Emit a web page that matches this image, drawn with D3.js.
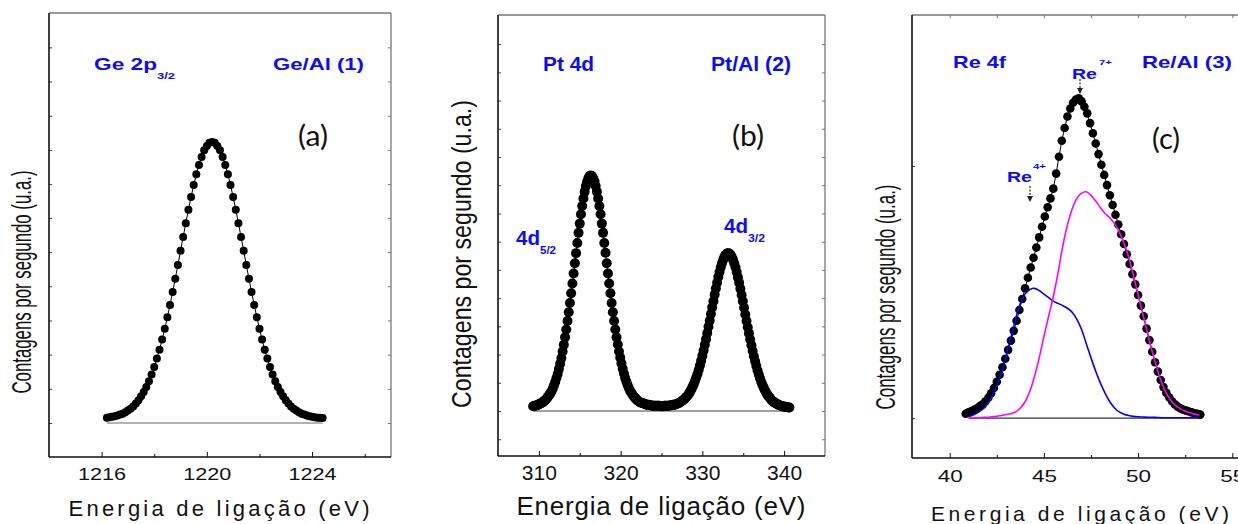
<!DOCTYPE html>
<html>
<head>
<meta charset="utf-8">
<script src="https://cdn.jsdelivr.net/npm/d3@7"></script>
<style>
  body { margin: 0; background: #fff; }
  svg { display: block; }
</style>
</head>
<body>
<svg id="chart" width="1238" height="524"></svg>
<script>
// ---------- (a) Ge 2p3/2, Ge/Al (1) ----------
const aEnergy = [1216.2,1216.3,1216.4,1216.5,1216.6,1216.7,1216.8,1216.9,1217,1217.1,
  1217.2,1217.3,1217.4,1217.5,1217.6,1217.7,1217.8,1217.9,1218,1218.1,
  1218.2,1218.3,1218.4,1218.5,1218.6,1218.7,1218.8,1218.9,1219,1219.1,
  1219.2,1219.3,1219.4,1219.5,1219.6,1219.7,1219.8,1219.9,1220,1220.1,
  1220.2,1220.3,1220.4,1220.5,1220.6,1220.7,1220.8,1220.9,1221,1221.1,
  1221.2,1221.3,1221.4,1221.5,1221.6,1221.7,1221.8,1221.9,1222,1222.1,
  1222.2,1222.3,1222.4,1222.5,1222.6,1222.7,1222.8,1222.9,1223,1223.1,
  1223.2,1223.3,1223.4,1223.5,1223.6,1223.7,1223.8,1223.9,1224,1224.1,
  1224.2,1224.3,1224.4];
const aCounts = [1.2,1.3,1.4,1.5,1.7,1.9,2.1,2.4,2.8,3.2,
  3.7,4.4,5.1,6.0,7.0,8.1,9.4,10.9,12.6,14.5,
  16.5,18.8,21.2,23.8,26.6,29.5,32.5,35.6,38.8,41.9,
  45.0,48.0,50.9,53.6,56.0,58.1,59.9,61.4,62.4,63.1,
  63.3,63.1,62.4,61.4,59.9,58.1,56.0,53.6,50.9,48.0,
  45.0,41.9,38.8,35.6,32.5,29.5,26.6,23.8,21.2,18.8,
  16.5,14.5,12.6,10.9,9.4,8.1,7.0,6.0,5.1,4.4,
  3.7,3.2,2.8,2.4,2.1,1.9,1.7,1.5,1.4,1.3,
  1.2,1.2,1.1];
const aBaseline = [1216.2, 1224.4];
const aXTicks = [1216, 1220, 1224];
const aXMinor = [1218, 1222, 1226];
const aYTicks = [0, 7.7, 15.4, 23.1, 30.8, 38.5, 46.2, 53.8, 61.5, 69.2, 76.9, 84.6];

// ---------- (b) Pt 4d, Pt/Al (2) ----------
const bEnergy = [309.3,309.45,309.6,309.75,309.9,310.05,310.2,310.35,310.5,310.65,310.8,310.95,311.1,311.25,311.4,311.55,311.7,311.85,312,312.15,
  312.3,312.45,312.6,312.75,312.9,313.05,313.2,313.35,313.5,313.65,313.8,313.95,314.1,314.25,314.4,314.55,314.7,314.85,315,315.15,
  315.3,315.45,315.6,315.75,315.9,316.05,316.2,316.35,316.5,316.65,316.8,316.95,317.1,317.25,317.4,317.55,317.7,317.85,318,318.15,
  318.3,318.45,318.6,318.75,318.9,319.05,319.2,319.35,319.5,319.65,319.8,319.95,320.1,320.25,320.4,320.55,320.7,320.85,321,321.15,
  321.3,321.45,321.6,321.75,321.9,322.05,322.2,322.35,322.5,322.65,322.8,322.95,323.1,323.25,323.4,323.55,323.7,323.85,324,324.15,
  324.3,324.45,324.6,324.75,324.9,325.05,325.2,325.35,325.5,325.65,325.8,325.95,326.1,326.25,326.4,326.55,326.7,326.85,327,327.15,
  327.3,327.45,327.6,327.75,327.9,328.05,328.2,328.35,328.5,328.65,328.8,328.95,329.1,329.25,329.4,329.55,329.7,329.85,330,330.15,
  330.3,330.45,330.6,330.75,330.9,331.05,331.2,331.35,331.5,331.65,331.8,331.95,332.1,332.25,332.4,332.55,332.7,332.85,333,333.15,
  333.3,333.45,333.6,333.75,333.9,334.05,334.2,334.35,334.5,334.65,334.8,334.95,335.1,335.25,335.4,335.55,335.7,335.85,336,336.15,
  336.3,336.45,336.6,336.75,336.9,337.05,337.2,337.35,337.5,337.65,337.8,337.95,338.1,338.25,338.4,338.55,338.7,338.85,339,339.15,
  339.3,339.45,339.6,339.75,339.9,340.05,340.2,340.35,340.5,340.65];
const bCounts = [1.1,1.2,1.2,1.3,1.4,1.6,1.7,1.8,2.0,2.3,2.5,2.8,3.2,3.6,4.0,4.5,5.1,5.8,6.6,7.5,
  8.4,9.5,10.7,12.0,13.5,15.0,16.7,18.5,20.4,22.4,24.5,26.7,28.9,31.2,33.5,35.8,38.1,40.4,42.5,44.6,
  46.5,48.2,49.7,51.0,52.0,52.8,53.3,53.4,53.3,52.8,52.1,51.0,49.7,48.2,46.5,44.6,42.5,40.4,38.1,35.9,
  33.5,31.2,28.9,26.7,24.5,22.4,20.4,18.5,16.7,15.1,13.5,12.1,10.8,9.6,8.5,7.5,6.7,5.9,5.2,4.6,
  4.2,3.7,3.3,3.0,2.7,2.4,2.2,2.0,1.9,1.8,1.7,1.6,1.5,1.4,1.4,1.3,1.3,1.2,1.2,1.2,
  1.2,1.2,1.2,1.2,1.1,1.1,1.1,1.2,1.2,1.2,1.2,1.2,1.3,1.3,1.4,1.4,1.5,1.6,1.7,1.8,
  2.0,2.2,2.4,2.6,2.9,3.2,3.5,3.9,4.4,4.9,5.5,6.1,6.8,7.6,8.4,9.3,10.3,11.4,12.5,13.7,
  15.0,16.3,17.7,19.1,20.5,22.0,23.5,24.9,26.4,27.8,29.1,30.4,31.5,32.6,33.5,34.3,35.0,35.4,35.7,35.8,
  35.7,35.4,34.9,34.3,33.5,32.6,31.5,30.3,29.1,27.7,26.3,24.9,23.4,21.9,20.4,19.0,17.6,16.2,14.9,13.6,
  12.4,11.3,10.2,9.2,8.3,7.4,6.6,5.9,5.3,4.7,4.2,3.7,3.3,3.0,2.6,2.3,2.1,1.9,1.7,1.6,
  1.4,1.3,1.2,1.1,1.0,1.0,0.9,0.9,0.8,0.8];
const bBaseline = [309.3, 340.6];
const bXTicks = [310, 320, 330, 340];
const bXMinor = [315, 325, 335];
const bYTicks = [-6.4, 0, 6.4, 12.8, 19.2, 25.6, 32.0, 38.4, 44.8, 51.2, 57.6, 64.0, 70.4, 76.8, 83.2];

// ---------- (c) Re 4f, Re/Al (3) ----------
const cEnergy = [40.85,41,41.15,41.3,41.45,41.6,41.75,41.9,42.05,42.2,
  42.35,42.5,42.65,42.8,42.95,43.1,43.25,43.4,43.55,43.7,
  43.85,44,44.15,44.3,44.45,44.6,44.75,44.9,45.05,45.2,
  45.35,45.5,45.65,45.8,45.95,46.1,46.25,46.4,46.55,46.7,
  46.85,47,47.15,47.3,47.45,47.6,47.75,47.9,48.05,48.2,
  48.35,48.5,48.65,48.8,48.95,49.1,49.25,49.4,49.55,49.7,
  49.85,50,50.15,50.3,50.45,50.6,50.75,50.9,51.05,51.2,
  51.35,51.5,51.65,51.8,51.95,52.1,52.25,52.4,52.55,52.7,
  52.85,53,53.15,53.3];
const cCounts = [1.0,1.3,1.6,1.9,2.2,2.7,3.1,3.8,4.6,5.6,
  6.8,8.2,9.8,11.5,13.4,15.4,17.5,19.7,22.0,24.4,
  26.9,29.3,31.7,34.0,36.2,38.5,40.8,43.2,45.5,47.6,
  49.6,51.8,55.2,59.0,62.6,65.5,68.1,69.9,71.2,71.9,
  72.2,71.5,70.3,68.8,66.6,64.3,62.0,59.6,57.2,54.9,
  52.6,50.3,48.1,45.9,43.7,41.5,39.3,37.0,34.8,32.5,
  30.2,27.8,25.4,23.0,20.2,17.6,15.0,12.6,10.5,8.6,
  7.0,5.7,4.7,3.8,3.1,2.6,2.2,1.9,1.7,1.5,
  1.3,1.1,1.0,0.8];
const cFitEnergy = [41,41.25,41.5,41.75,42,42.25,42.5,42.75,43,43.25,
  43.5,43.75,44,44.25,44.5,44.75,45,45.25,45.5,45.75,
  46,46.25,46.5,46.75,47,47.25,47.5,47.75,48,48.25,
  48.5,48.75,49,49.25,49.5,49.75,50,50.25,50.5,50.75,
  51,51.25,51.5,51.75,52,52.25,52.5,52.75,53,53.25];
const cRe7 = [0.0,0.05,0.1,0.15,0.2,0.3,0.4,0.6,0.8,1.0,
  1.4,2.3,3.7,6.0,9.4,13.6,18.4,23.0,27.4,32.8,
  38.8,43.6,47.2,49.6,50.8,51.1,50.3,49.0,47.5,46.2,
  45.2,43.9,42.0,39.5,36.3,32.2,27.8,23.5,19.2,15.0,
  11.3,8.0,5.6,3.9,2.8,2.1,1.6,1.2,0.9,0.7];
const cRe4 = [0.3,0.7,1.3,2.0,3.2,4.9,7.3,10.3,14.0,18.2,
  22.3,25.9,28.0,29.0,29.3,28.8,28.0,27.2,26.4,25.9,
  25.4,24.8,23.9,22.3,20.0,16.8,13.6,10.6,7.9,5.6,
  3.7,2.3,1.4,0.9,0.6,0.4,0.3,0.25,0.2,0.2,
  0.15,0.1,0.1,0.1,0.1,0.1,0.1,0.1,0.1,0.1];
const cBaseline = [41.0, 53.3];
const cXTicks = [40, 45, 50, 55];
const cXMinor = [42.5, 47.5, 52.5];
const cYTicks = [0, 56.9];

const yLabel = "Contagens por segundo (u.a.)";
const xLabel = "Energia de ligação (eV)";

const SANS = "'Liberation Sans', Arial, Helvetica, sans-serif";
const BLUE = "#0a0aff";
const svg = d3.select("#chart");

function addText(g, str, x, y, o) {
  const t = g.append("text")
    .attr("x", x).attr("y", y)
    .attr("font-family", o.family || SANS)
    .attr("font-size", o.size)
    .attr("font-weight", o.weight || "normal")
    .attr("fill", o.color || "#111")
    .attr("text-anchor", o.anchor || "start")
    .text(str);
  if (o.len) t.attr("textLength", o.len).attr("lengthAdjust", o.adjust || "spacingAndGlyphs");
  if (o.rotate) t.attr("transform", `rotate(${o.rotate},${x},${y})`);
  return t;
}

function drawPanel(p) {
  const b = p.box;
  const x = d3.scaleLinear().domain(p.xDomain).range([b.left, b.right]);
  const y = d3.scaleLinear().domain(p.yDomain).range([b.bottom, b.top]);
  const g = svg.append("g");

  // frame: grey top/right, black left/bottom
  g.append("line").attr("x1", b.left).attr("x2", b.right).attr("y1", b.top).attr("y2", b.top)
    .attr("stroke", "#777").attr("stroke-width", 1.3);
  g.append("line").attr("x1", b.right).attr("x2", b.right).attr("y1", b.top).attr("y2", b.bottom)
    .attr("stroke", "#777").attr("stroke-width", 1.3);

  // bottom axis, inward ticks
  const xa = g.append("g").attr("transform", `translate(0,${b.bottom})`)
    .call(d3.axisBottom(x).tickValues(p.xTicks).tickSizeInner(-5).tickSizeOuter(0).tickFormat(d3.format("d")));
  xa.select(".domain").remove();
  xa.selectAll("line").attr("stroke", "#111");
  xa.selectAll("text")
    .attr("y", p.tickLabel.dy).attr("dy", null)
    .attr("font-family", SANS).attr("font-size", p.tickLabel.size).attr("fill", "#111");
  if (p.tickLabel.len) xa.selectAll("text").attr("textLength", p.tickLabel.len).attr("lengthAdjust", "spacingAndGlyphs");
  g.append("g").attr("transform", `translate(0,${b.bottom})`)
    .call(d3.axisBottom(x).tickValues(p.xMinor).tickSizeInner(-3).tickSizeOuter(0).tickFormat(""))
    .call(s => s.select(".domain").remove())
    .selectAll("line").attr("stroke", "#111");

  if (p.topTicks) {
    g.append("g").attr("transform", `translate(0,${b.top})`)
      .call(d3.axisTop(x).tickValues(p.xTicks.concat(p.xMinor)).tickSizeInner(-3).tickSizeOuter(0).tickFormat(""))
      .call(s => s.select(".domain").remove())
      .selectAll("line").attr("stroke", "#777");
  }

  g.append("g").attr("transform", `translate(${b.left},0)`)
    .call(d3.axisLeft(y).tickValues(p.yTicks).tickSizeInner(-3).tickSizeOuter(0).tickFormat(""))
    .call(s => s.select(".domain").remove())
    .selectAll("line").attr("stroke", "#444");
  if (p.rightTicks) {
    g.append("g").attr("transform", `translate(${b.right},0)`)
      .call(d3.axisRight(y).tickValues(p.yTicks).tickSizeInner(-3).tickSizeOuter(0).tickFormat(""))
      .call(s => s.select(".domain").remove())
      .selectAll("line").attr("stroke", "#777");
  }

  g.append("line").attr("x1", b.left).attr("x2", b.right).attr("y1", b.bottom).attr("y2", b.bottom)
    .attr("stroke", "#111").attr("stroke-width", 1.6);
  g.append("line").attr("x1", b.left).attr("x2", b.left).attr("y1", b.top).attr("y2", b.bottom)
    .attr("stroke", "#111").attr("stroke-width", 1.6);

  // background line under the peak
  g.append("line")
    .attr("x1", x(p.baseline[0])).attr("x2", x(p.baseline[1]))
    .attr("y1", y(0)).attr("y2", y(0))
    .attr("stroke", p.baseColor).attr("stroke-width", 1.2);

  const pts = d3.zip(p.energy, p.counts);
  const line = d3.line().x(d => x(d[0])).y(d => y(d[1]));
  g.append("path").datum(pts).attr("d", line)
    .attr("fill", "none").attr("stroke", "#000").attr("stroke-width", 1);
  g.append("g").selectAll("circle").data(pts).join("circle")
    .attr("cx", d => x(d[0])).attr("cy", d => y(d[1])).attr("r", p.r).attr("fill", "#000");

  (p.fits || []).forEach(f => {
    const fl = d3.line().x(d => x(d[0])).y(d => y(d[1])).curve(d3.curveCatmullRom.alpha(0.5));
    g.append("path").datum(d3.zip(f.energy, f.values)).attr("d", fl)
      .attr("fill", "none").attr("stroke", f.color).attr("stroke-width", 1.6);
  });

  addText(g, yLabel, p.yLab.x, p.yLab.y, { size: p.yLab.size, anchor: "middle", len: p.yLab.len, rotate: -90 });
  addText(g, xLabel, p.xLab.x, p.xLab.y, { size: p.xLab.size, anchor: "middle", len: p.xLab.len, adjust: p.xLab.adjust || "spacing" });
  addText(g, p.tag.text, p.tag.x, p.tag.y, { size: 28, family: "Lato, 'Open Sans', sans-serif", len: p.tag.len });
  p.notes.forEach(n => addText(g, n.text, n.x, n.y, { size: n.size, weight: "bold", color: BLUE, len: n.len }));
  (p.arrows || []).forEach(a => {
    g.append("line").attr("x1", a.x).attr("x2", a.x).attr("y1", a.y0).attr("y2", a.y1 - 5)
      .attr("stroke", "#222").attr("stroke-width", 1.2).attr("stroke-dasharray", "2,1.5");
    g.append("path")
      .attr("d", `M${a.x - 3},${a.y1 - 6}L${a.x + 3},${a.y1 - 6}L${a.x},${a.y1}Z`)
      .attr("fill", "#222");
  });
}

drawPanel({
  box: { left: 49, right: 391, top: 13, bottom: 457 },
  xDomain: [1214, 1227], yDomain: [-7.66, 92.34],
  energy: aEnergy, counts: aCounts, r: 4, baseline: aBaseline, baseColor: "#666",
  xTicks: aXTicks, xMinor: aXMinor, yTicks: aYTicks, rightTicks: true,
  tickLabel: { size: 16, dy: 23, len: 48 },
  yLab: { x: 31, y: 282, size: 27, len: 223 },
  xLab: { x: 219, y: 516, size: 22, len: 301 },
  tag: { text: "(a)", x: 298, y: 146, len: 30 },
  notes: [
    { text: "Ge 2p", x: 94, y: 70, size: 17, len: 63 },
    { text: "3/2", x: 157, y: 79, size: 9, len: 18 },
    { text: "Ge/Al (1)", x: 273, y: 70, size: 17, len: 91 }
  ]
});

drawPanel({
  box: { left: 498, right: 825, top: 15, bottom: 456 },
  xDomain: [305, 345], yDomain: [-10.2, 89.8],
  energy: bEnergy, counts: bCounts, r: 5, baseline: bBaseline, baseColor: "#444",
  xTicks: bXTicks, xMinor: bXMinor, yTicks: bYTicks, rightTicks: true,
  tickLabel: { size: 21, dy: 24 },
  yLab: { x: 471, y: 254, size: 27, len: 308 },
  xLab: { x: 661, y: 515, size: 26, len: 289 },
  tag: { text: "(b)", x: 732, y: 146, len: 32 },
  notes: [
    { text: "Pt 4d", x: 543, y: 71, size: 20, len: 51 },
    { text: "Pt/Al (2)", x: 711, y: 71, size: 20, len: 80 },
    { text: "4d", x: 516, y: 245, size: 20, len: 24 },
    { text: "5/2", x: 540, y: 254, size: 11, len: 16 },
    { text: "4d", x: 724, y: 233, size: 20, len: 24 },
    { text: "3/2", x: 748, y: 242, size: 11, len: 17 }
  ]
});

drawPanel({
  box: { left: 912, right: 1270, top: 15, bottom: 458 },
  xDomain: [38, 57], yDomain: [-9, 91],
  energy: cEnergy, counts: cCounts, r: 4.3, baseline: cBaseline, baseColor: "#333",
  xTicks: cXTicks, xMinor: cXMinor, yTicks: cYTicks, topTicks: true,
  tickLabel: { size: 16, dy: 24, len: 25 },
  fits: [
    { energy: cFitEnergy, values: cRe4, color: "#0000ff" },
    { energy: cFitEnergy, values: cRe7, color: "#ff00ff" }
  ],
  yLab: { x: 895, y: 297, size: 27, len: 225 },
  xLab: { x: 1080, y: 521, size: 21, len: 298 },
  tag: { text: "(c)", x: 1152, y: 149, len: 28 },
  notes: [
    { text: "Re 4f", x: 953, y: 68, size: 17, len: 53 },
    { text: "Re/Al (3)", x: 1142, y: 68, size: 17, len: 90 },
    { text: "Re", x: 1072, y: 79, size: 15, len: 25 },
    { text: "7+", x: 1099, y: 65, size: 8, len: 13 },
    { text: "Re", x: 1007, y: 182, size: 15, len: 25 },
    { text: "4+", x: 1033, y: 169, size: 8, len: 13 }
  ],
  arrows: [
    { x: 1080, y0: 79, y1: 94 },
    { x: 1030, y0: 186, y1: 202 }
  ]
});
</script>
</body>
</html>
